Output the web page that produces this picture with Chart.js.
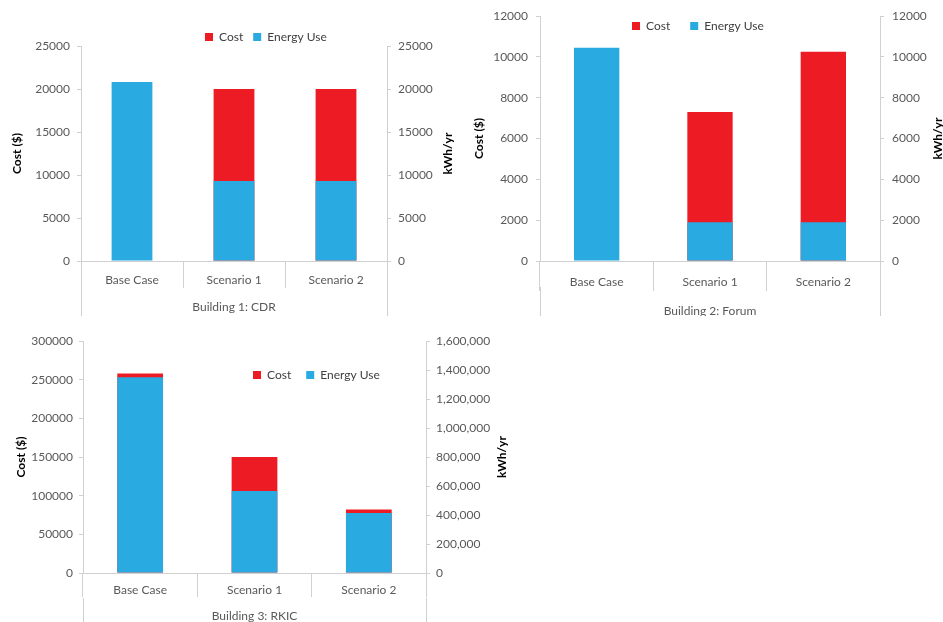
<!DOCTYPE html>
<html>
<head>
<meta charset="utf-8">
<title>Building energy use and cost</title>
<script src="https://cdn.jsdelivr.net/npm/chart.js@4.4.1/dist/chart.umd.min.js"></script>
<style>
  body { margin: 0; background: #fff; }
  canvas { position: absolute; }
</style>
</head>
<body>
<canvas id="cdr" width="470" height="316" style="left:0;top:0"></canvas>
<canvas id="forum" width="473" height="316" style="left:470px;top:0"></canvas>
<canvas id="rkic" width="520" height="302" style="left:0;top:320px"></canvas>
<script>
// data
const categories = ['Base Case', 'Scenario 1', 'Scenario 2'];

const cdrCost = [null, 20000, 20000];
const cdrEnergy = [20800, 9300, 9300];

const forumCost = [null, 7300, 10250];
const forumEnergy = [10450, 1900, 1900];

const rkicCost = [258000, 150000, 82000];
const rkicEnergy = [1350000, 565000, 414000];

const RED = '#ed1c24';
const BLUE = '#29abe2';
const FONT = 'Lato';
const GRID = '#d0d0d0';

// move the legend to where the original had it
const placeLegend = {
  id: 'placeLegend',
  beforeDraw(chart, args, opts) {
    const lg = chart.legend;
    const pad = lg.options.labels.padding;
    lg.left = opts.x - pad;
    lg.right = chart.width;
    lg.top = opts.y - 6 - pad;
    lg.bottom = lg.top + 2 * pad + 20; // legend clips to its own box
  }
};

// right axis title, reading bottom to top like the original
const sideTitle = {
  id: 'sideTitle',
  afterDraw(chart, args, opts) {
    const { ctx, chartArea } = chart;
    ctx.save();
    ctx.translate(chart.width - opts.offset, (chartArea.top + chartArea.bottom) / 2);
    ctx.rotate(-Math.PI / 2);
    ctx.font = 'bold 12px ' + FONT;
    ctx.fillStyle = '#000';
    ctx.textAlign = 'center';
    ctx.textBaseline = 'middle';
    ctx.fillText(opts.text, 0, 0);
    ctx.restore();
  }
};

function makeChart(id, c) {
  return new Chart(document.getElementById(id), {
    type: 'bar',
    data: {
      labels: categories,
      datasets: [
        { label: 'Cost', data: c.cost, backgroundColor: RED, yAxisID: 'y', order: 2,
          grouped: false, barPercentage: 0.4, categoryPercentage: 1 },
        { label: 'Energy Use', data: c.energy, backgroundColor: BLUE, yAxisID: 'y1', order: 1,
          grouped: false, barPercentage: 0.4, categoryPercentage: 1 }
      ]
    },
    options: {
      responsive: false,
      animation: false,
      locale: 'en-US',
      layout: { padding: { top: c.top - 1, left: 0, right: 0, bottom: 0 } },
      plugins: {
        legend: {
          position: 'top',
          align: 'start',
          maxHeight: 1,
          labels: {
            boxWidth: 8, boxHeight: 8, padding: c.legendPad, color: '#404040',
            font: { family: FONT, size: 12 },
            sort: (a, b) => a.datasetIndex - b.datasetIndex
          }
        },
        tooltip: { enabled: false },
        placeLegend: { x: c.legendX, y: c.legendY },
        sideTitle: { text: 'kWh/yr', offset: c.rightTitle }
      },
      scales: {
        x: {
          weight: 0,
          grid: { offset: true, drawOnChartArea: false, tickLength: c.sepLen, color: GRID },
          border: { color: GRID },
          ticks: { padding: c.catPad, color: '#595959', font: { family: FONT, size: 12 } },
          afterFit: s => { s.height = c.catH; }
        },
        x2: {
          type: 'category', axis: 'x', position: 'bottom', weight: 1,
          labels: [c.building], offset: true,
          grid: { offset: true, drawOnChartArea: false, tickLength: c.bldH, color: GRID },
          border: { display: false },
          ticks: { padding: c.bldPad, color: '#595959', font: { family: FONT, size: 12 } },
          afterFit: s => { s.height = c.bldH; }
        },
        y: {
          position: 'left', min: 0, max: c.costMax,
          grid: { drawOnChartArea: false, tickLength: 4, color: GRID },
          border: { color: GRID },
          ticks: { stepSize: c.costStep, padding: c.tickPad, color: '#595959',
                   font: { family: FONT, size: 12 }, callback: v => String(v) },
          title: { display: true, text: 'Cost ($)', color: '#000',
                   font: { family: FONT, size: 12, weight: 'bold' }, padding: { top: c.leftTitle, bottom: 0 } },
          afterFit: s => { s.width = c.left; }
        },
        y1: {
          position: 'right', min: 0, max: c.energyMax,
          grid: { drawOnChartArea: false, tickLength: 4, color: GRID },
          border: { color: GRID },
          ticks: { stepSize: c.energyStep, padding: c.tickPad, color: '#595959',
                   font: { family: FONT, size: 12 }, callback: c.energyFmt },
          afterFit: s => { s.width = c.rightW; }
        }
      }
    },
    plugins: [placeLegend, sideTitle]
  });
}

makeChart('cdr', {
  cost: cdrCost, energy: cdrEnergy, building: 'Building 1: CDR',
  costMax: 25000, costStep: 5000, energyMax: 25000, energyStep: 5000,
  energyFmt: v => String(v),
  top: 46, left: 81, rightW: 83, tickPad: 7,
  catH: 26, sepLen: 27, catPad: -15, bldH: 29, bldPad: -16,
  legendX: 205, legendY: 37, legendPad: 10,
  leftTitle: 10, rightTitle: 22
});

makeChart('forum', {
  cost: forumCost, energy: forumEnergy, building: 'Building 2: Forum',
  costMax: 12000, costStep: 2000, energyMax: 12000, energyStep: 2000,
  energyFmt: v => String(v),
  top: 16, left: 70, rightW: 63, tickPad: 8,
  catH: 26, sepLen: 30, catPad: -16, bldH: 29, bldPad: -12,
  legendX: 162, legendY: 26, legendPad: 20,
  leftTitle: 2, rightTitle: 5
});

makeChart('rkic', {
  cost: rkicCost, energy: rkicEnergy, building: 'Building 3: RKIC',
  costMax: 300000, costStep: 50000, energyMax: 1600000, energyStep: 200000,
  energyFmt: v => v.toLocaleString('en-US'),
  top: 21, left: 83, rightW: 94, tickPad: 6,
  catH: 25, sepLen: 24, catPad: -14, bldH: 24, bldPad: -13,
  legendX: 253, legendY: 55, legendPad: 15,
  leftTitle: 14, rightTitle: 18
});
</script>
</body>
</html>
